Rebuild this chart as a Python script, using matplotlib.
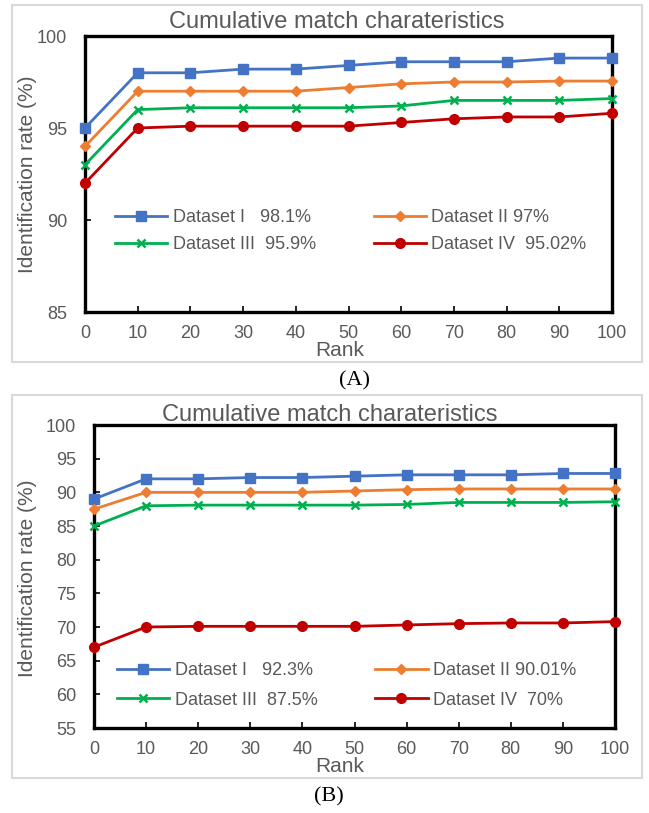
import matplotlib
matplotlib.use("Agg")
import matplotlib.pyplot as plt
from matplotlib.patches import Rectangle

# ---------------------------------------------------------------------------
# Data
# ---------------------------------------------------------------------------

RANKS = [0, 10, 20, 30, 40, 50, 60, 70, 80, 90, 100]

A_DS1 = [95.0, 98.0, 98.0, 98.2, 98.2, 98.4, 98.6, 98.6, 98.6, 98.8, 98.8]
A_DS2 = [94.0, 97.0, 97.0, 97.0, 97.0, 97.2, 97.4, 97.5, 97.5, 97.55, 97.55]
A_DS3 = [93.0, 96.0, 96.1, 96.1, 96.1, 96.1, 96.2, 96.5, 96.5, 96.5, 96.6]
A_DS4 = [92.0, 95.0, 95.1, 95.1, 95.1, 95.1, 95.3, 95.5, 95.6, 95.6, 95.8]
A_LABELS = ["Dataset I   98.1%", "Dataset II 97%",
            "Dataset III  95.9%", "Dataset IV  95.02%"]

B_DS1 = [89.0, 92.0, 92.0, 92.2, 92.2, 92.4, 92.6, 92.6, 92.6, 92.8, 92.8]
B_DS2 = [87.5, 90.0, 90.0, 90.0, 90.0, 90.2, 90.4, 90.5, 90.5, 90.5, 90.5]
B_DS3 = [85.0, 88.0, 88.1, 88.1, 88.1, 88.1, 88.2, 88.5, 88.5, 88.5, 88.6]
B_DS4 = [67.0, 70.0, 70.1, 70.1, 70.1, 70.1, 70.3, 70.5, 70.6, 70.6, 70.8]
B_LABELS = ["Dataset I   92.3%", "Dataset II 90.01%",
            "Dataset III  87.5%", "Dataset IV  70%"]

TITLE = "Cumulative match charateristics"

# (color, marker, markersize)
STYLES = [
    ("#4472C4", "s", 6.5),
    ("#ED7D31", "D", 5.0),
    ("#00B050", "x", 6.0),
    ("#C00000", "o", 7.0),
]

GRAY = "#595959"
W, H = 649, 813

plt.rcParams["font.family"] = ["Liberation Sans", "DejaVu Sans"]


def px_axes(fig, left, top, right, bottom):
    return fig.add_axes([left / W, 1 - bottom / H, (right - left) / W, (bottom - top) / H])


def fig_xy(x, y):
    return x / W, 1 - y / H


def draw_panel(fig, ax, series, labels, ylim, yticks, legend_anchor, spacing):
    lines = []
    for ys, (color, marker, ms) in zip(series, STYLES):
        ln, = ax.plot(RANKS, ys, color=color, marker=marker, markersize=ms,
                      linewidth=2.0, markeredgewidth=1.8 if marker == "x" else 1.0,
                      clip_on=False, zorder=3)
        lines.append(ln)
    ax.set_xlim(0, 100)
    ax.set_ylim(*ylim)
    ax.set_xticks(RANKS)
    ax.set_yticks(yticks)
    ax.tick_params(direction="in", length=4, width=1.2, colors="black",
                   labelcolor=GRAY, labelsize=13)
    ax.tick_params(axis="y", pad=13)
    ax.tick_params(axis="x", pad=9)
    for sp in ax.spines.values():
        sp.set_linewidth(2.4)
        sp.set_color("black")
    # legend is filled row by row in the reference: I, II / III, IV
    order = [0, 2, 1, 3]
    ax.legend([lines[i] for i in order], [labels[i] for i in order],
              ncol=2, frameon=False, fontsize=13,
              handlelength=2.9, handletextpad=0.3, columnspacing=3.2,
              labelspacing=spacing, labelcolor=GRAY,
              loc="upper left", bbox_to_anchor=legend_anchor,
              bbox_transform=fig.transFigure, borderaxespad=0, borderpad=0)


def main():
    fig = plt.figure(figsize=(W / 100, H / 100), dpi=100)

    # light gray frames around each chart
    for (x0, y0, x1, y1) in [(12, 5, 642, 362), (12, 395, 642, 778)]:
        fig.patches.append(Rectangle((x0 / W, 1 - y1 / H), (x1 - x0) / W, (y1 - y0) / H,
                                     transform=fig.transFigure, fill=False,
                                     edgecolor="#d9d9d9", linewidth=1.5))

    serif = ["Liberation Serif", "DejaVu Serif"]

    # ---- panel A ----
    ax_a = px_axes(fig, 85, 36, 612, 312)
    draw_panel(fig, ax_a, [A_DS1, A_DS2, A_DS3, A_DS4], A_LABELS,
               (85, 100), [85, 90, 95, 100], fig_xy(115, 209), 0.55)
    fig.text(*fig_xy(337, 22), TITLE, ha="center", va="center", fontsize=17, color=GRAY)
    fig.text(*fig_xy(340, 351), "Rank", ha="center", va="center", fontsize=15, color=GRAY)
    fig.text(*fig_xy(28, 174), "Identification rate (%)", ha="center", va="center",
             rotation=90, fontsize=15, color=GRAY)
    fig.text(*fig_xy(354, 381), "(A)", ha="center", va="center", fontsize=16, family=serif)

    # ---- panel B ----
    ax_b = px_axes(fig, 94, 425, 615, 728)
    draw_panel(fig, ax_b, [B_DS1, B_DS2, B_DS3, B_DS4], B_LABELS,
               (55, 100), list(range(55, 101, 5)), fig_xy(117, 662), 0.7)
    fig.text(*fig_xy(330, 415), TITLE, ha="center", va="center", fontsize=17, color=GRAY)
    fig.text(*fig_xy(340, 766), "Rank", ha="center", va="center", fontsize=15, color=GRAY)
    fig.text(*fig_xy(28, 578), "Identification rate (%)", ha="center", va="center",
             rotation=90, fontsize=15, color=GRAY)
    fig.text(*fig_xy(329, 797), "(B)", ha="center", va="center", fontsize=16, family=serif)

    fig.savefig("out.png", dpi=100, facecolor="white")


if __name__ == "__main__":
    main()
